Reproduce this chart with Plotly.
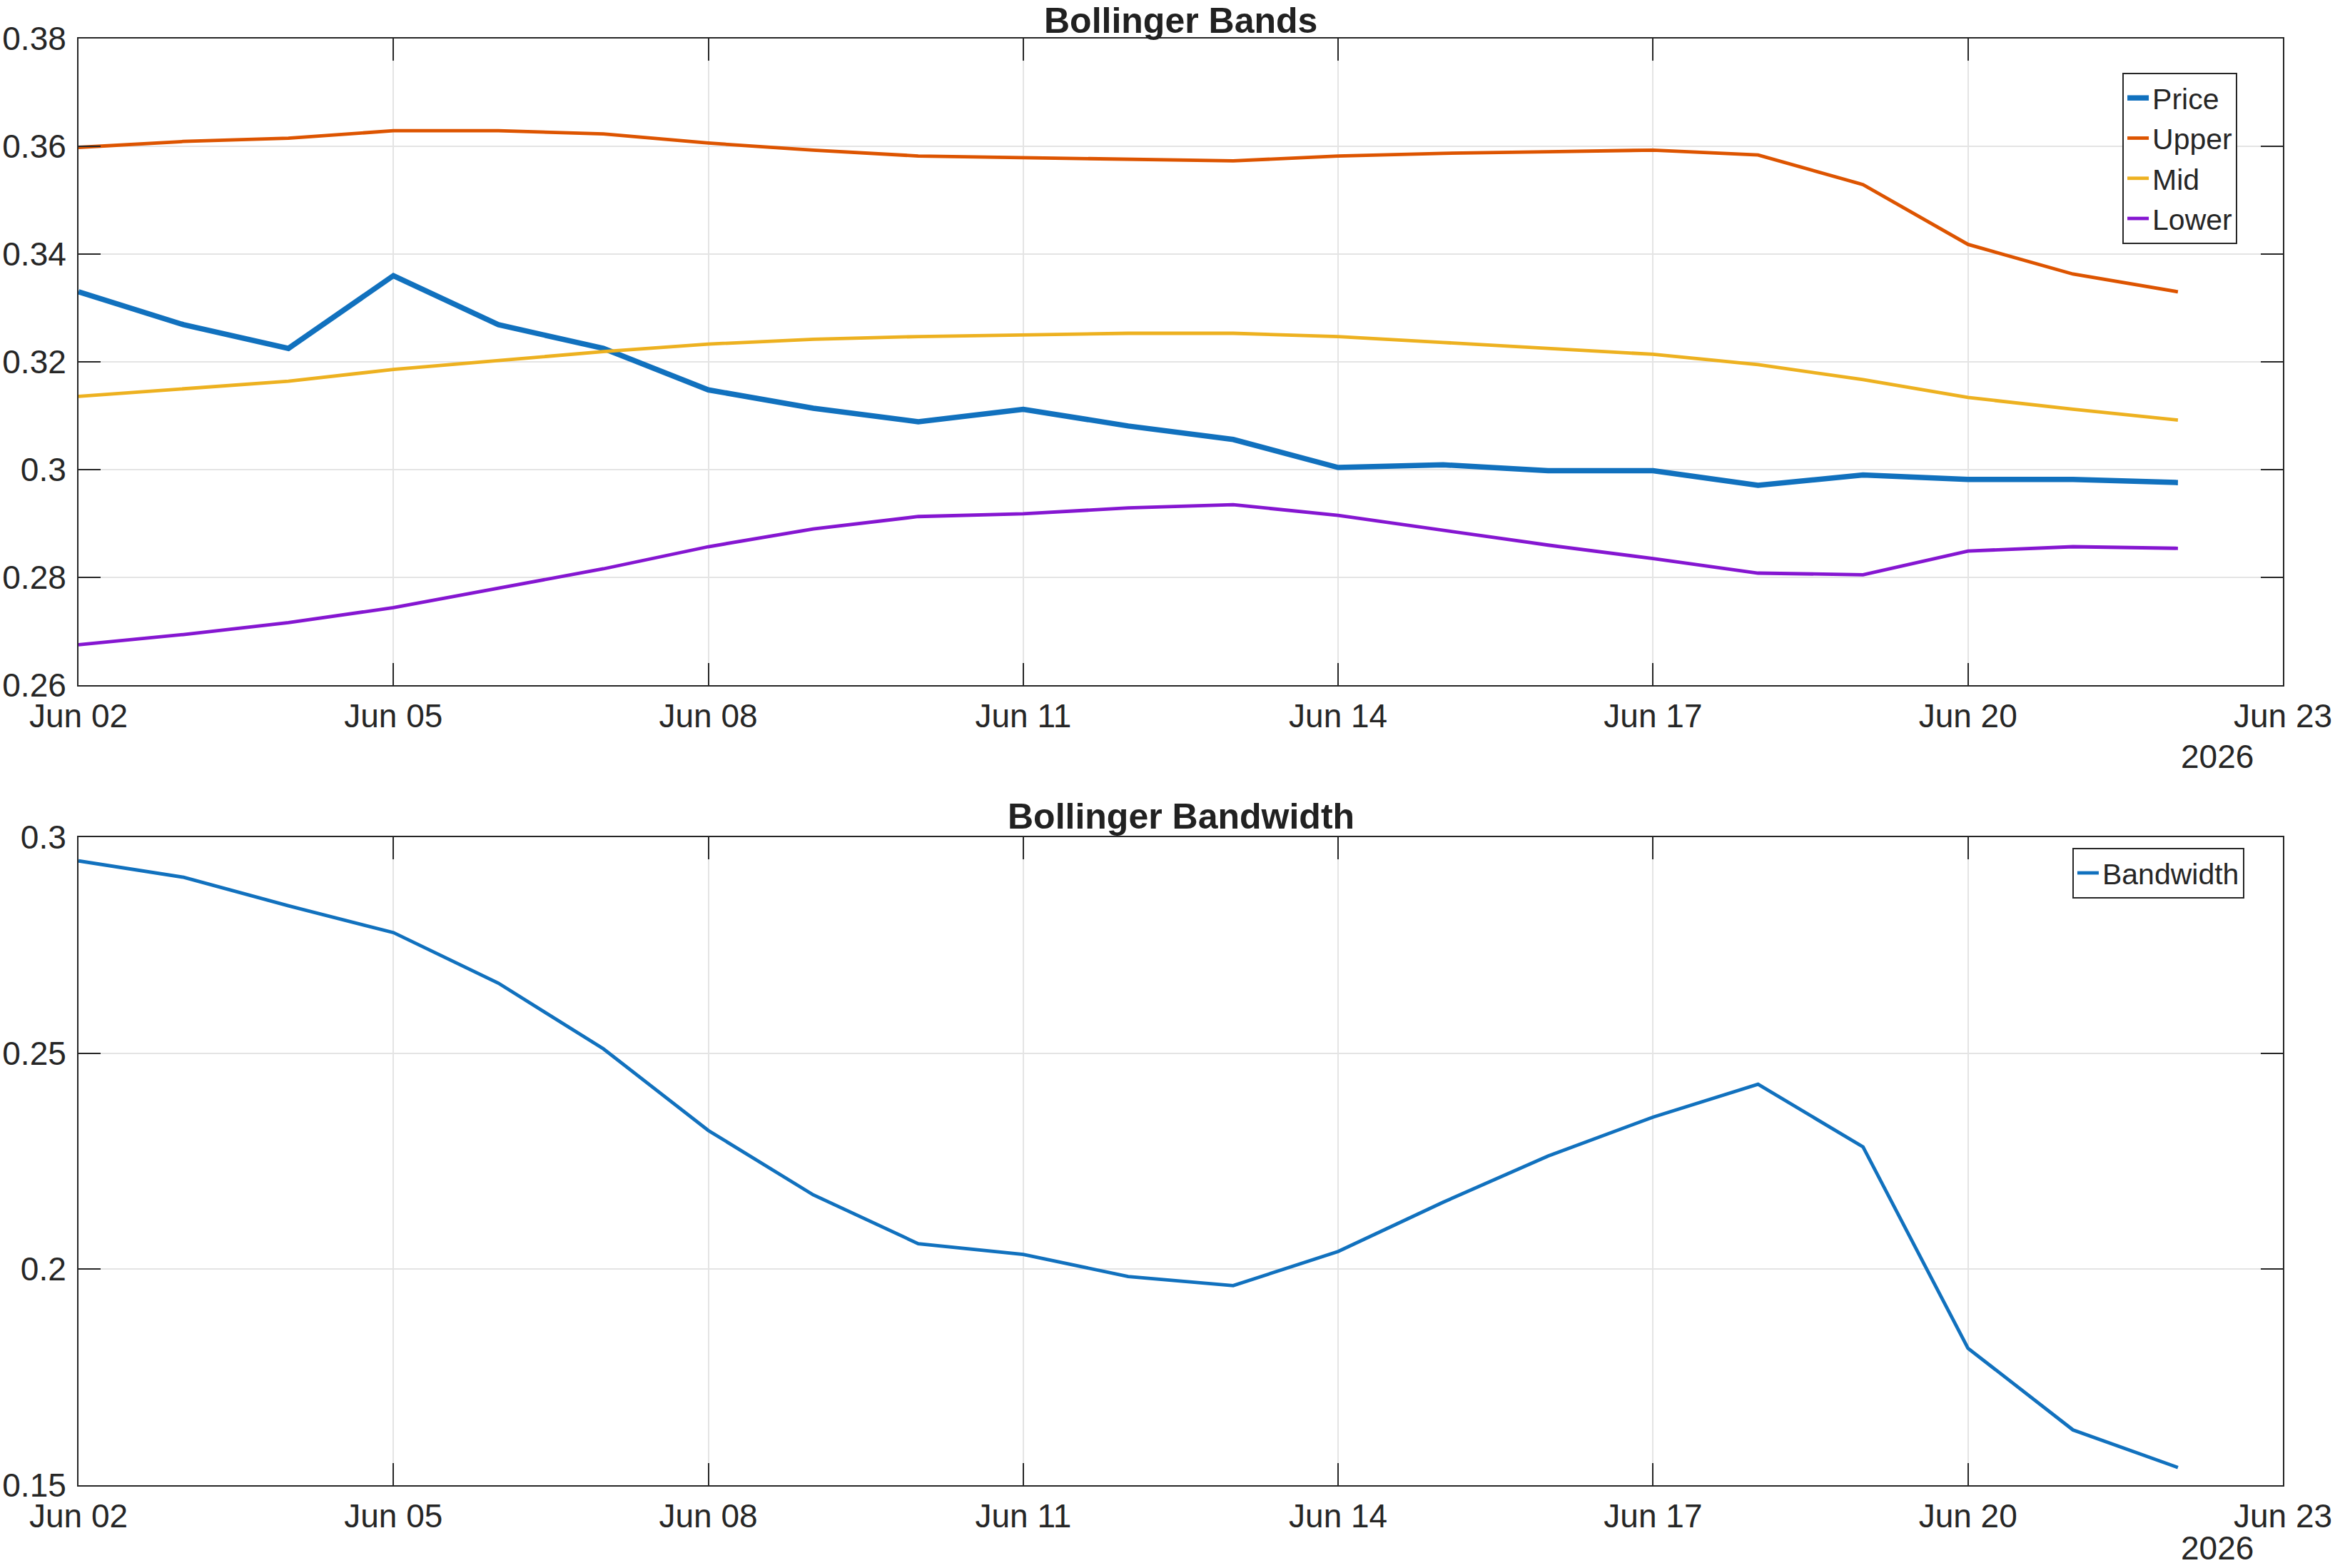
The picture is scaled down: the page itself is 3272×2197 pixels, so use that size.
import plotly.graph_objects as go

# ---------------- data ----------------
dates = ["2026-06-02", "2026-06-03", "2026-06-04", "2026-06-05", "2026-06-06",
         "2026-06-07", "2026-06-08", "2026-06-09", "2026-06-10", "2026-06-11",
         "2026-06-12", "2026-06-13", "2026-06-14", "2026-06-15", "2026-06-16",
         "2026-06-17", "2026-06-18", "2026-06-19", "2026-06-20", "2026-06-21",
         "2026-06-22"]

price = [0.3330, 0.3269, 0.3225, 0.3360, 0.3269, 0.3225, 0.3148, 0.3114, 0.3089,
         0.3112, 0.3081, 0.3056, 0.3004, 0.3009, 0.2998, 0.2998, 0.2971, 0.2990,
         0.2982, 0.2982, 0.2976]
upper = [0.3598, 0.3609, 0.3615, 0.3629, 0.3629, 0.3623, 0.3606, 0.3593, 0.3582,
         0.3579, 0.3576, 0.3573, 0.3582, 0.3587, 0.3590, 0.3593, 0.3584, 0.3529,
         0.3418, 0.3363, 0.3330]
mid = [0.3136, 0.3150, 0.3164, 0.3186, 0.3203, 0.3219, 0.3233, 0.3242, 0.3247,
       0.3250, 0.3253, 0.3253, 0.3247, 0.3236, 0.3225, 0.3214, 0.3195, 0.3167,
       0.3134, 0.3112, 0.3092]
lower = [0.2675, 0.2694, 0.2716, 0.2744, 0.2780, 0.2816, 0.2857, 0.2890, 0.2913,
         0.2918, 0.2929, 0.2935, 0.2915, 0.2888, 0.2860, 0.2835, 0.2808, 0.2805,
         0.2849, 0.2857, 0.2854]
bandwidth = [0.2945, 0.2907, 0.2841, 0.2779, 0.2662, 0.2510, 0.2321, 0.2172, 0.2059,
             0.2034, 0.1983, 0.1962, 0.2041, 0.2155, 0.2262, 0.2352, 0.2428, 0.2283,
             0.1817, 0.1628, 0.1541]

x_tickvals = ["2026-06-02", "2026-06-05", "2026-06-08", "2026-06-11",
              "2026-06-14", "2026-06-17", "2026-06-20", "2026-06-23"]
x_ticktext = ["Jun 02", "Jun 05", "Jun 08", "Jun 11", "Jun 14", "Jun 17", "Jun 20", "Jun 23"]
x_range = ["2026-06-02", "2026-06-23"]

y1_tickvals = [0.26, 0.28, 0.30, 0.32, 0.34, 0.36, 0.38]
y1_ticktext = ["0.26", "0.28", "0.3", "0.32", "0.34", "0.36", "0.38"]
y2_tickvals = [0.15, 0.20, 0.25, 0.30]
y2_ticktext = ["0.15", "0.2", "0.25", "0.3"]

# ---------------- style ----------------
FONT = "Liberation Sans, Arial, Helvetica, sans-serif"
TXT = "#262626"
C_PRICE = "#1171BE"
C_UPPER = "#DD5400"
C_MID = "#EDB120"
C_LOWER = "#8516D1"

fig = go.Figure()
fig.add_trace(go.Scatter(x=dates, y=price, mode="lines", name="Price",
                         line=dict(color=C_PRICE, width=7.5), xaxis="x", yaxis="y", legend="legend"))
fig.add_trace(go.Scatter(x=dates, y=upper, mode="lines", name="Upper",
                         line=dict(color=C_UPPER, width=4.8), xaxis="x", yaxis="y", legend="legend"))
fig.add_trace(go.Scatter(x=dates, y=mid, mode="lines", name="Mid",
                         line=dict(color=C_MID, width=4.8), xaxis="x", yaxis="y", legend="legend"))
fig.add_trace(go.Scatter(x=dates, y=lower, mode="lines", name="Lower",
                         line=dict(color=C_LOWER, width=4.8), xaxis="x", yaxis="y", legend="legend"))
fig.add_trace(go.Scatter(x=dates, y=bandwidth, mode="lines", name="Bandwidth",
                         line=dict(color=C_PRICE, width=4.8), xaxis="x2", yaxis="y2", legend="legend2"))

axis_common = dict(
    showline=True, linecolor=TXT, linewidth=2, mirror="ticks",
    ticks="inside", ticklen=31, tickwidth=2, tickcolor=TXT,
    showgrid=True, gridcolor="#e4e4e4", gridwidth=2, zeroline=False,
    automargin=False,
    tickfont=dict(family=FONT, size=46, color=TXT),
)

fig.update_layout(
    width=3272, height=2197,
    margin=dict(l=110, r=73, t=54, b=116),
    paper_bgcolor="white", plot_bgcolor="white",
    font=dict(family=FONT, color=TXT),
    xaxis=dict(axis_common, anchor="y", domain=[0, 1], type="date", range=x_range,
               tickmode="array", tickvals=x_tickvals, ticktext=x_ticktext, ticklabelstandoff=2),
    yaxis=dict(axis_common, anchor="x", domain=[0.553, 1], range=[0.26, 0.38],
               tickmode="array", tickvals=y1_tickvals, ticktext=y1_ticktext, ticklabelstandoff=6),
    xaxis2=dict(axis_common, anchor="y2", domain=[0, 1], type="date", range=x_range,
                tickmode="array", tickvals=x_tickvals, ticktext=x_ticktext, ticklabelstandoff=2),
    yaxis2=dict(axis_common, anchor="x2", domain=[0, 0.448], range=[0.15, 0.30],
                tickmode="array", tickvals=y2_tickvals, ticktext=y2_ticktext, ticklabelstandoff=6),
    legend=dict(x=0.9793, xanchor="right", y=0.9763, yanchor="top",
                bordercolor=TXT, borderwidth=2, bgcolor="white",
                font=dict(family=FONT, size=41, color=TXT)),
    legend2=dict(x=0.9825, xanchor="right", y=0.4406, yanchor="top",
                 bordercolor=TXT, borderwidth=2, bgcolor="white",
                 font=dict(family=FONT, size=41, color=TXT)),
    annotations=[
        dict(text="<b>Bollinger Bands</b>", xref="x domain", yref="y domain", x=0.5, y=1,
             xanchor="center", yanchor="bottom", showarrow=False, yshift=-5,
             font=dict(family=FONT, size=50, color="#212121")),
        dict(text="<b>Bollinger Bandwidth</b>", xref="x2 domain", yref="y2 domain", x=0.5, y=1,
             xanchor="center", yanchor="bottom", showarrow=False, yshift=-1,
             font=dict(family=FONT, size=50, color="#212121")),
        dict(text="2026", xref="x domain", yref="y domain", x=0.9702, y=0, yshift=-100,
             xanchor="center", yanchor="middle", showarrow=False,
             font=dict(family=FONT, size=46, color=TXT)),
        dict(text="2026", xref="x2 domain", yref="y2 domain", x=0.9702, y=0, yshift=-88,
             xanchor="center", yanchor="middle", showarrow=False,
             font=dict(family=FONT, size=46, color=TXT)),
    ],
)

fig.write_html("out.html")
